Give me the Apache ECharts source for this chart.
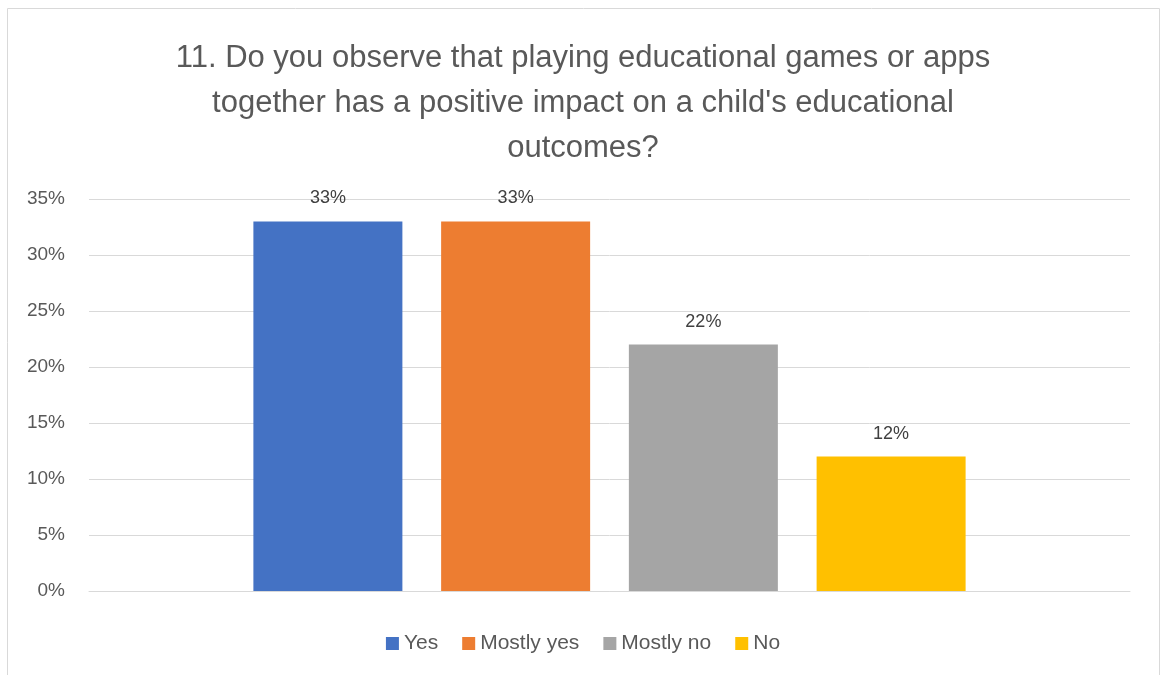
<!DOCTYPE html>
<html><head><meta charset="utf-8">
<script src="https://cdn.jsdelivr.net/npm/echarts@6/dist/echarts.min.js"></script>
<style>html,body{margin:0;padding:0;background:#fff}#c{width:1166px;height:675px}</style>
</head><body><div id="c"></div>
<script>
const categories = ['Q11'];
const seriesNames = ['Yes', 'Mostly yes', 'Mostly no', 'No'];
const seriesValues = [33, 33, 22, 12];
const colors = ['#4472C4', '#ED7D31', '#A5A5A5', '#FFC000'];
const yTicks = [0, 5, 10, 15, 20, 25, 30, 35];

const chart = echarts.init(document.getElementById('c'));
const font = 'Liberation Sans, Arial, sans-serif';
chart.setOption({
  animation: false,
  textStyle: { fontFamily: font },
  title: {
    text: "11. Do you observe that playing educational games or apps\ntogether has a positive impact on a child's educational\noutcomes?",
    left: 'center', top: 31,
    textStyle: { fontSize: 31, fontWeight: 'normal', color: '#595959', lineHeight: 45, fontFamily: font }
  },
  graphic: [{ type: 'rect', shape: { x: 7.5, y: 8.5, width: 1152, height: 680 }, style: { fill: 'none', stroke: '#D9D9D9', lineWidth: 1 }, silent: true }],
  legend: {
    bottom: 16, left: 'center', itemWidth: 13, itemHeight: 13, itemGap: 24,
    icon: 'rect',
    data: seriesNames,
    textStyle: { fontSize: 21, color: '#595959', fontFamily: font }
  },
  grid: { left: 89, right: 36, top: 199, bottom: 84 },
  xAxis: {
    type: 'category', data: categories,
    axisLine: { lineStyle: { color: '#D9D9D9' } }, axisTick: { show: false }, axisLabel: { show: false }
  },
  yAxis: {
    type: 'value', min: yTicks[0], max: yTicks[yTicks.length - 1], interval: 5,
    axisLine: { show: false }, axisTick: { show: false },
    splitLine: { lineStyle: { color: '#D9D9D9', width: 1 } },
    axisLabel: { formatter: v => v + '%', fontSize: 19, color: '#595959', margin: 24, fontFamily: font }
  },
  series: seriesNames.map((n, i) => ({
    name: n, type: 'bar', data: [seriesValues[i]], barWidth: 149, barGap: '26%',
    itemStyle: { color: colors[i] },
    label: { show: true, position: 'top', formatter: p => p.value + '%', fontSize: 18, color: '#404040', distance: 14, fontFamily: font }
  }))
});
</script></body></html>
